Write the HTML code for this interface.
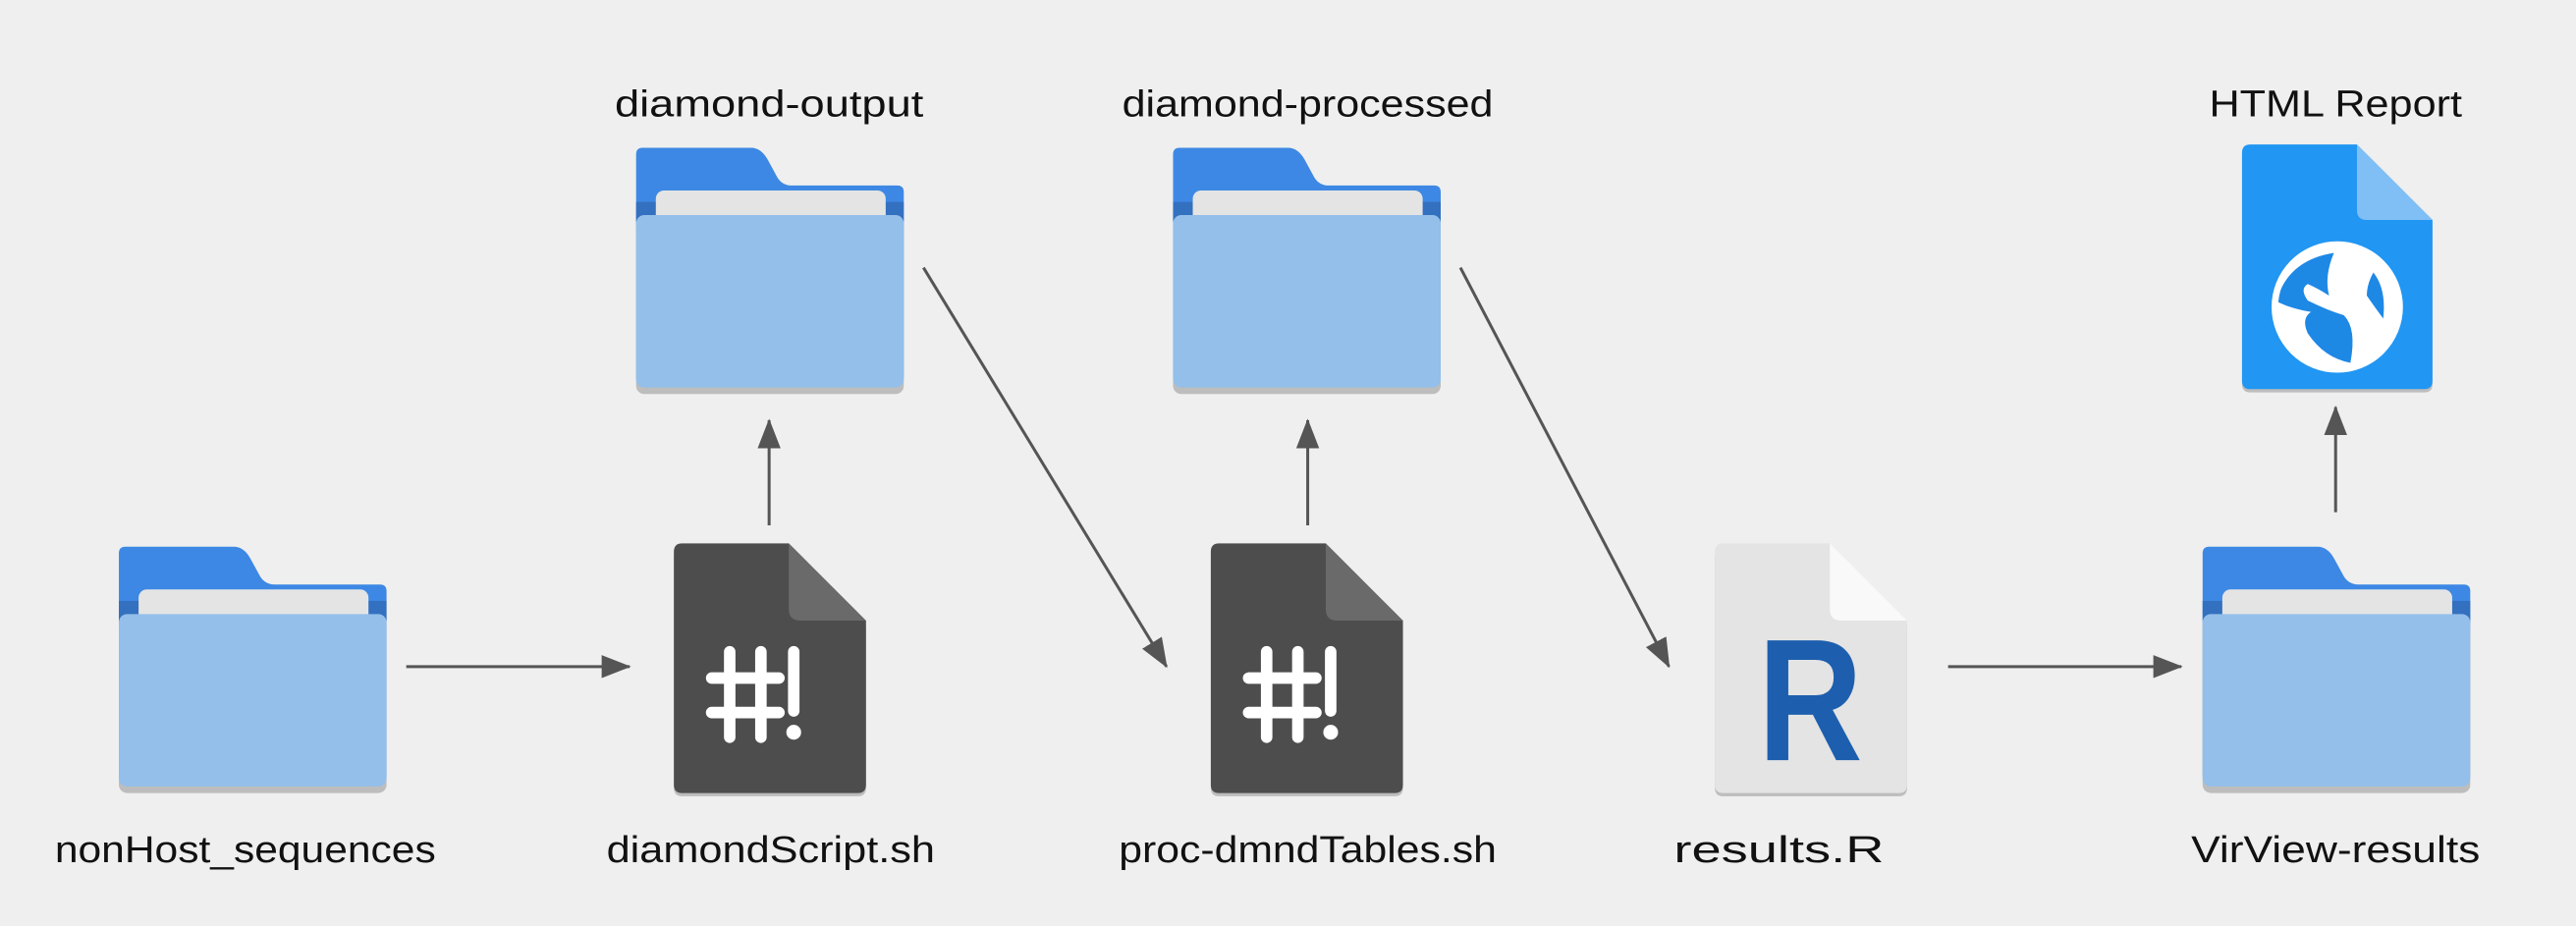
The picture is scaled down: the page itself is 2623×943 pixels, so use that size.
<!DOCTYPE html>
<html><head><meta charset="utf-8"><style>
html,body{margin:0;padding:0;background:#efefef;}
svg{display:block;}
text{font-family:"Liberation Sans",sans-serif;font-size:22.5px;fill:#111;}
</style></head><body>
<svg width="2623" height="943" viewBox="0 0 1568 564" xmlns="http://www.w3.org/2000/svg">
<defs>
<g id="folder">
<path d="M4,0 H70 Q76,0 80,7 L86,18 Q89,23 95,23 H159 Q163,23 163,27 V140 H0 V4 Q0,0 4,0Z" fill="#3d88e4"/>
<rect x="0" y="33" width="163" height="12" fill="#3470c0"/>
<rect x="12" y="26" width="140" height="32" rx="5" fill="#e4e4e4"/>
<rect x="0" y="44" width="163" height="106" rx="5" fill="#bdbdbd"/>
<rect x="0" y="41" width="163" height="105" rx="5" fill="#93bfea"/>
</g>
<g id="doc">
<path d="M5,3 H70 L117,50 V149 Q117,154 112,154 H5 Q0,154 0,149 V8 Q0,3 5,3Z" fill="#bdbdbd"/>
</g>
<marker id="ah" markerWidth="18" markerHeight="14" refX="17" refY="7" orient="auto" markerUnits="userSpaceOnUse" viewBox="0 0 18 14">
<path d="M0,0 L18,7 L0,14Z" fill="#555"/>
</marker>
</defs>

<use href="#folder" x="72" y="333"/>
<use href="#folder" x="387" y="90"/>
<use href="#folder" x="714" y="90"/>
<use href="#folder" x="1341" y="333"/>

<g transform="translate(410,331)">
<use href="#doc"/>
<path d="M5,0 H70 L117,47 V147 Q117,152 112,152 H5 Q0,152 0,147 V5 Q0,0 5,0Z" fill="#4d4d4d"/>
<path d="M70,0 V40 Q70,47 77,47 H117Z" fill="#6a6a6a"/>
<g stroke="#fff" stroke-width="7" stroke-linecap="round" fill="none">
<line x1="34" y1="66" x2="34" y2="118"/><line x1="53" y1="66" x2="53" y2="118"/>
<line x1="23" y1="82" x2="64" y2="82"/><line x1="23" y1="103" x2="64" y2="103"/>
<line x1="73" y1="66" x2="73" y2="102"/>
</g>
<circle cx="73" cy="115" r="4.5" fill="#fff"/>
</g>
<g transform="translate(737,331)">
<use href="#doc"/>
<path d="M5,0 H70 L117,47 V147 Q117,152 112,152 H5 Q0,152 0,147 V5 Q0,0 5,0Z" fill="#4d4d4d"/>
<path d="M70,0 V40 Q70,47 77,47 H117Z" fill="#6a6a6a"/>
<g stroke="#fff" stroke-width="7" stroke-linecap="round" fill="none">
<line x1="34" y1="66" x2="34" y2="118"/><line x1="53" y1="66" x2="53" y2="118"/>
<line x1="23" y1="82" x2="64" y2="82"/><line x1="23" y1="103" x2="64" y2="103"/>
<line x1="73" y1="66" x2="73" y2="102"/>
</g>
<circle cx="73" cy="115" r="4.5" fill="#fff"/>
</g>

<g transform="translate(1044,331)">
<use href="#doc"/>
<path d="M5,0 H70 L117,47 V147 Q117,152 112,152 H5 Q0,152 0,147 V5 Q0,0 5,0Z" fill="#e4e4e4"/>
<path d="M70,0 V40 Q70,47 77,47 H117Z" fill="#f9f9f9"/>
<text x="58" y="132" text-anchor="middle" textLength="64" lengthAdjust="spacingAndGlyphs" style="font-size:106px;font-weight:bold;fill:#1d5fae">R</text>
</g>

<g transform="translate(1365,88)">
<path d="M5,3 H70 L116,49 V146 Q116,151 111,151 H5 Q0,151 0,146 V8 Q0,3 5,3Z" fill="#bdbdbd"/>
<path d="M5,0 H70 L116,46 V144 Q116,149 111,149 H5 Q0,149 0,144 V5 Q0,0 5,0Z" fill="#2196f3"/>
<path d="M70,0 V40 Q70,46 76,46 H116Z" fill="#7fbff5"/>
<circle cx="58" cy="99" r="38" fill="#fff"/>
<path d="M22,92 Q30,70 56,66 Q50,80 53,92 Q45,87 40,85 Q35,88 40,95 Q52,101 62,104 Q70,112 66,133 Q50,130 40,115 Q36,106 42,102 Q30,100 22,96Z" fill="#1e88e5"/>
<path d="M80,78 Q88,88 86,106 Q80,98 76,92 Q76,85 80,78Z" fill="#1e88e5"/>
<circle cx="58" cy="99" r="38" fill="none" stroke="#fff" stroke-width="4"/>
</g>

<g stroke="#555" stroke-width="1.8" fill="none" marker-end="url(#ah)">
<line x1="247" y1="406" x2="383" y2="406"/>
<line x1="1186" y1="406" x2="1328" y2="406"/>
<line x1="468" y1="320" x2="468" y2="256"/>
<line x1="796" y1="320" x2="796" y2="256"/>
<line x1="1422" y1="312" x2="1422" y2="248"/>
<line x1="562" y1="163" x2="710" y2="406"/>
<line x1="889" y1="163" x2="1016" y2="406"/>
</g>

<text x="468" y="71" text-anchor="middle" textLength="188" lengthAdjust="spacingAndGlyphs">diamond-output</text>
<text x="796" y="71" text-anchor="middle" textLength="226" lengthAdjust="spacingAndGlyphs">diamond-processed</text>
<text x="1422" y="71" text-anchor="middle" textLength="154" lengthAdjust="spacingAndGlyphs">HTML Report</text>
<text x="149" y="525" text-anchor="middle" textLength="232" lengthAdjust="spacingAndGlyphs">nonHost_sequences</text>
<text x="469" y="525" text-anchor="middle" textLength="200" lengthAdjust="spacingAndGlyphs">diamondScript.sh</text>
<text x="796" y="525" text-anchor="middle" textLength="230" lengthAdjust="spacingAndGlyphs">proc-dmndTables.sh</text>
<text x="1083" y="525" text-anchor="middle" textLength="128" lengthAdjust="spacingAndGlyphs">results.R</text>
<text x="1422" y="525" text-anchor="middle" textLength="176" lengthAdjust="spacingAndGlyphs">VirView-results</text>
</svg>
</body></html>
